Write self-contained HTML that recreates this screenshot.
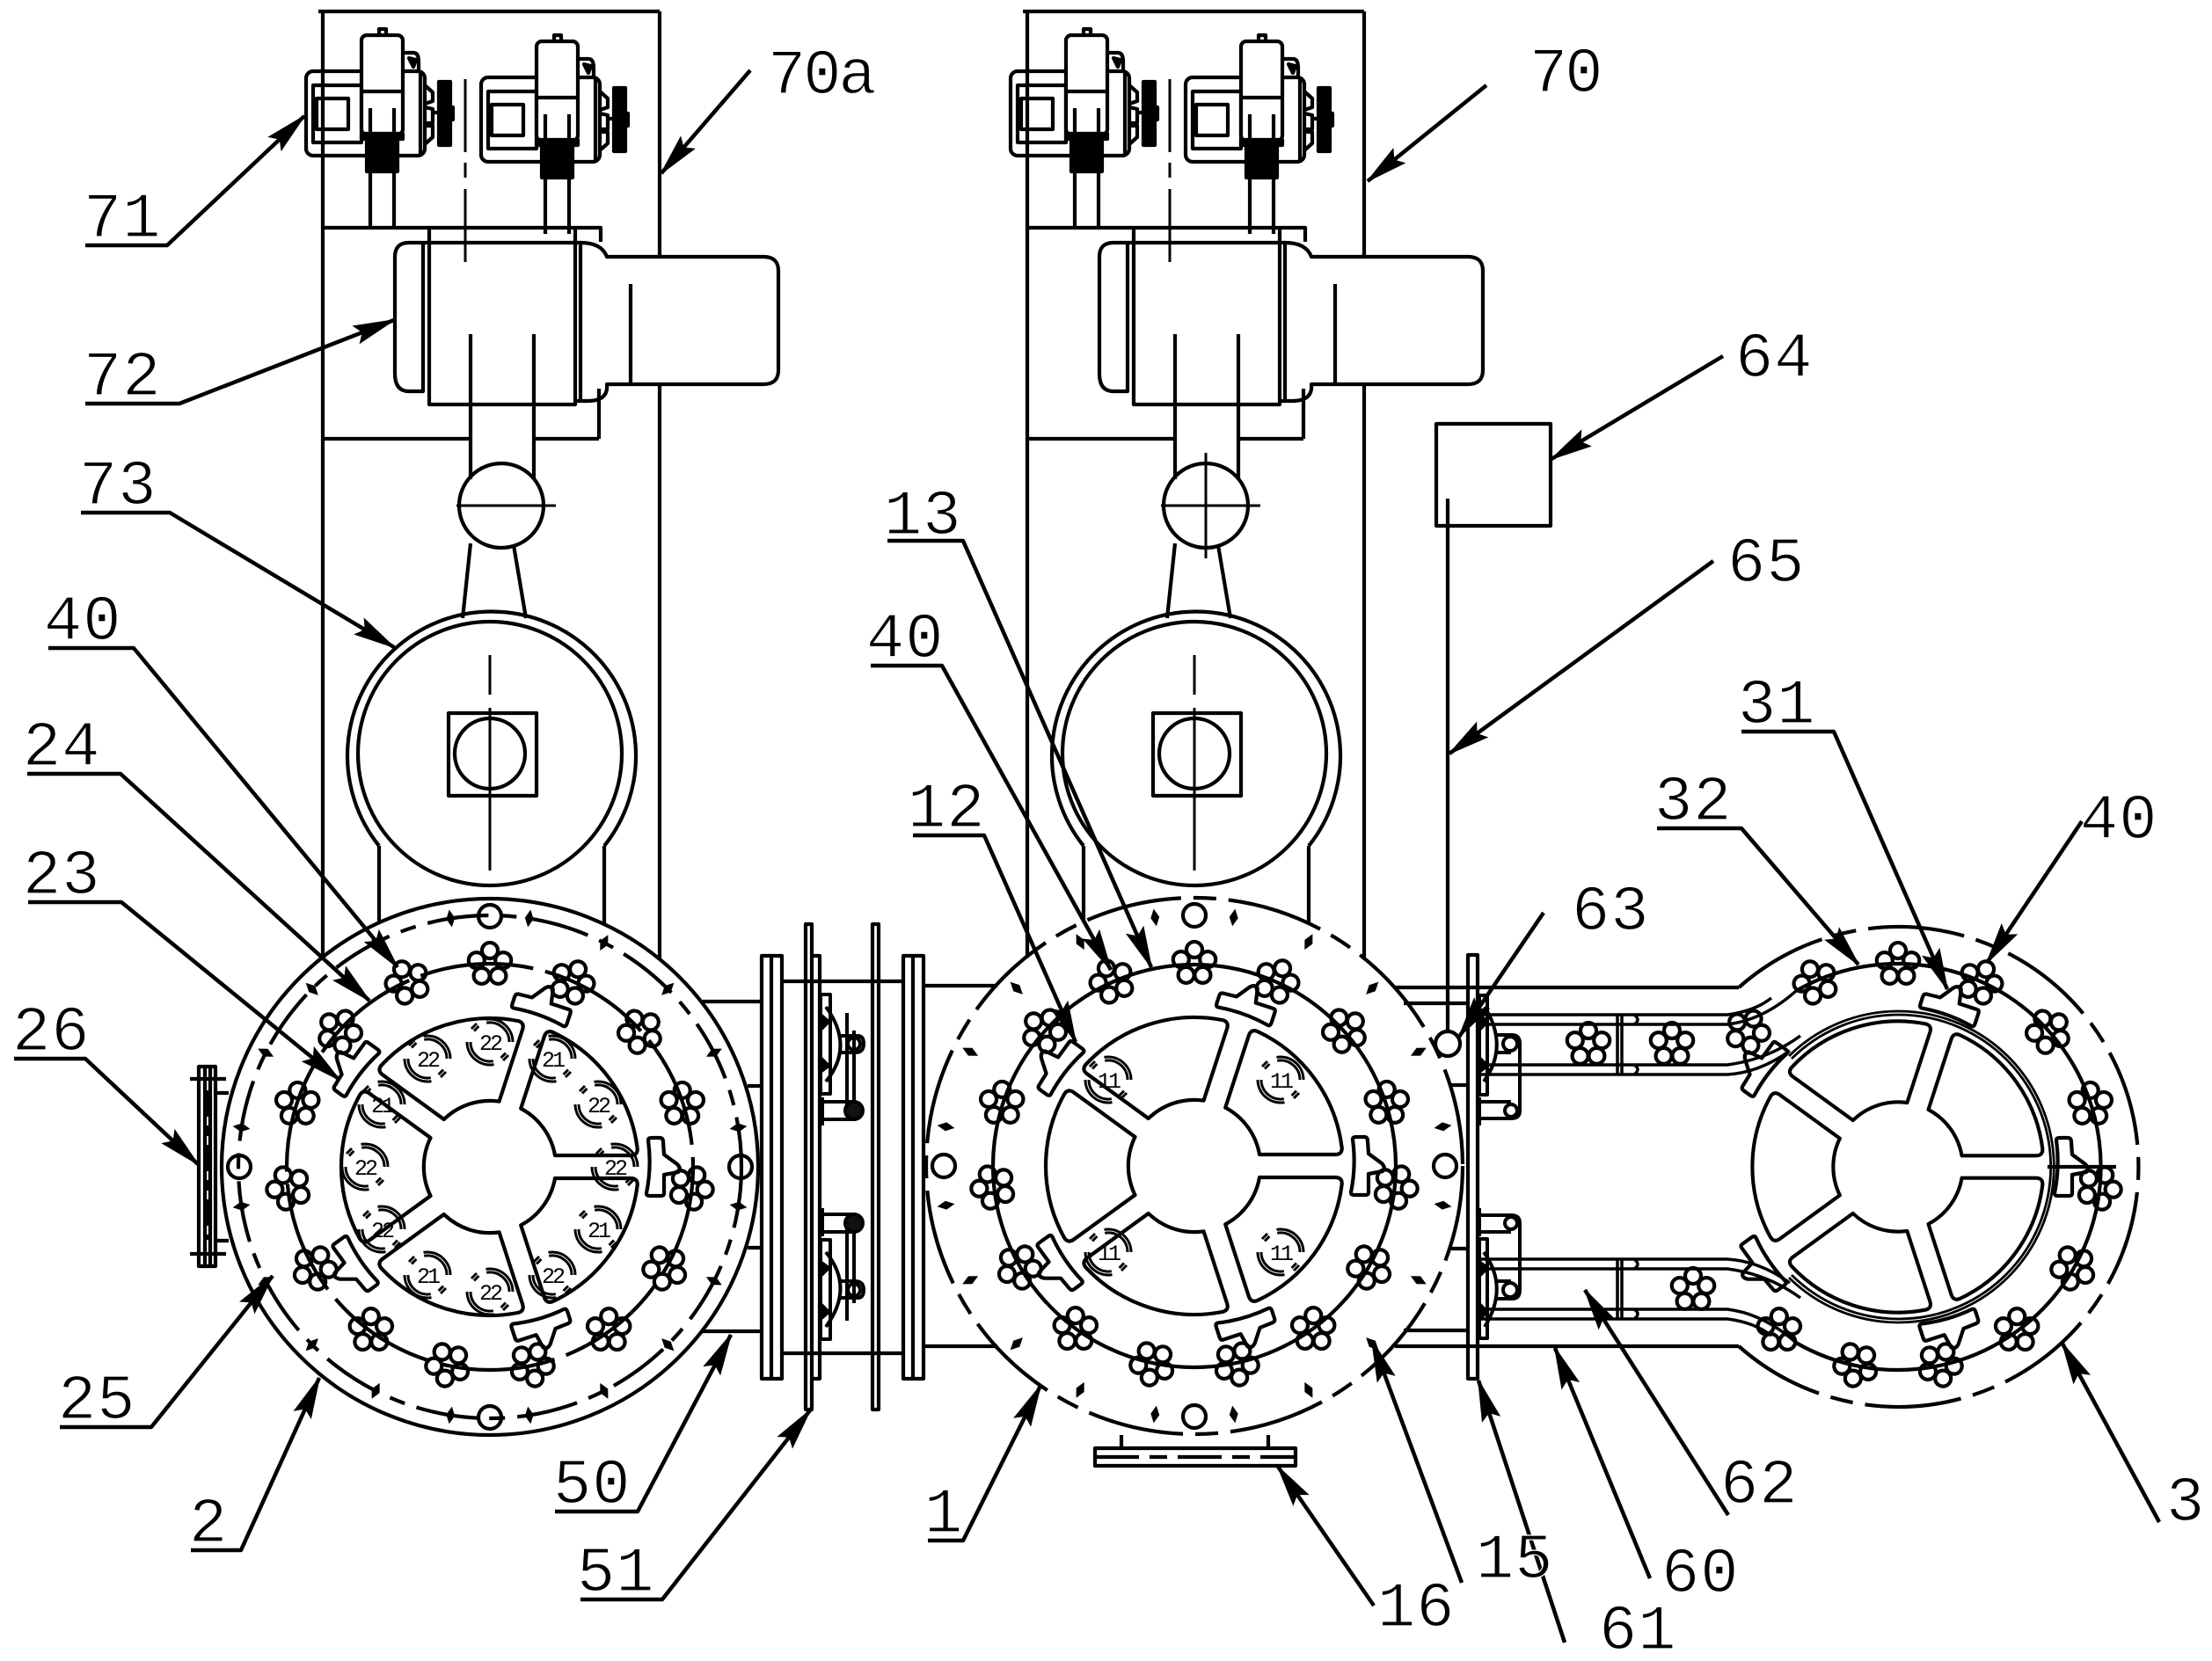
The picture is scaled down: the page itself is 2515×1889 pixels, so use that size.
<!DOCTYPE html>
<html><head><meta charset="utf-8"><title>Diagram</title>
<style>html,body{margin:0;padding:0;background:#fff}svg{display:block}
text{font-family:"Liberation Mono",monospace;font-size:72px;letter-spacing:1px;fill:#000;stroke:#fff;stroke-width:1.2px}
.s{font-family:"Liberation Mono",monospace;font-size:25px;letter-spacing:-3px;text-anchor:middle;stroke:none}
</style></head><body>
<svg xmlns="http://www.w3.org/2000/svg" width="2515" height="1889" viewBox="0 0 2515 1889">
<defs>
<marker id="a" markerUnits="userSpaceOnUse" markerWidth="54" markerHeight="28" refX="50" refY="14" orient="auto"><path d="M12 14 L5 4 L50 14 L5 24Z" fill="#000" stroke="#000" stroke-width="1.5"/></marker>
<g id="fl" fill="none"><circle cx="0" cy="-16" r="9"/><circle cx="15.2" cy="-4.9" r="9"/><circle cx="9.4" cy="12.9" r="9"/><circle cx="-9.4" cy="12.9" r="9"/><circle cx="-15.2" cy="-4.9" r="9"/></g>
<use id="f0" href="#fl" transform="translate(0,-230)"/>
<g id="fls"><use href="#f0"/><use href="#f0" transform="rotate(24)"/><use href="#f0" transform="rotate(48)"/><use href="#f0" transform="rotate(72)"/><use href="#f0" transform="rotate(96)"/><use href="#f0" transform="rotate(120)"/><use href="#f0" transform="rotate(144)"/><use href="#f0" transform="rotate(168)"/><use href="#f0" transform="rotate(192)"/><use href="#f0" transform="rotate(216)"/></g>
<g id="fl15"><use href="#fls"/><use href="#f0" transform="rotate(240)"/><use href="#f0" transform="rotate(264)"/><use href="#f0" transform="rotate(288)"/><use href="#f0" transform="rotate(312)"/><use href="#f0" transform="rotate(336)"/></g>
<path id="sec" fill="none" d="M67.5 -33 L137 -83.5 Q143.6 -88.3 147.8 -81.9 A169 169 0 0 1 147.8 81.9 Q143.6 88.3 137 83.5 L67.5 33 A75 75 0 0 0 67.5 -33Z"/>
<g id="wheel"><use href="#sec" transform="rotate(36)"/><use href="#sec" transform="rotate(108)"/><use href="#sec" transform="rotate(180)"/><use href="#sec" transform="rotate(252)"/><use href="#sec" transform="rotate(324)"/></g>
<path id="cl" fill="none" d="M180 -30 Q180 -33 184 -33 L193 -33 Q197 -33 197 -28 L198 -14 L213 -3 Q218 2 214 6 L198 9 L198 30 Q198 33 194 33 L182 33 Q178 33 178 30 A180 180 0 0 0 180 -30Z"/>
<g id="clips"><use href="#cl"/><use href="#cl" transform="rotate(72)"/><use href="#cl" transform="rotate(144)"/><use href="#cl" transform="rotate(216)"/><use href="#cl" transform="rotate(288)"/></g>
<path id="dm" fill="#000" stroke="none" d="M0 -296 L5 -286 L0 -276 L-5 -286Z"/>
<g id="dms"><use href="#dm" transform="rotate(9)"/><use href="#dm" transform="rotate(27)"/><use href="#dm" transform="rotate(45)"/><use href="#dm" transform="rotate(63)"/><use href="#dm" transform="rotate(81)"/></g>
<g id="dm20"><use href="#dms"/><use href="#dms" transform="rotate(90)"/><use href="#dms" transform="rotate(180)"/><use href="#dms" transform="rotate(270)"/></g>
<g id="holes" fill="none"><circle cx="0" cy="-285" r="13"/><circle cx="285" cy="0" r="13"/><circle cx="0" cy="285" r="13"/><circle cx="-285" cy="0" r="13"/></g>
<path id="ci" fill="none" stroke-width="3" d="M-4.5 -25.6A26 26 0 0 1 26 0M-3.8 -21.7A22 22 0 0 1 22 0M4.5 25.6A26 26 0 0 1 -26 0M3.8 21.7A22 22 0 0 1 -22 0M21 15L15 21M18 12.6L12.6 18M-21 -15L-15 -21M-18 -12.6L-12.6 -18"/>
<g id="motor" fill="none">
<rect x="348" y="81" width="135" height="96" rx="8"/><rect x="356" y="97" width="55" height="65"/><rect x="360" y="112" width="36" height="35"/>
<rect x="411" y="40" width="47" height="113" rx="6" fill="#fff"/><path d="M411 104H458M421 123V153M448 123V153M421 195V259M448 195V259M431 40V33H439V40M458 60H470Q476 60 476 70V81M478 81V177"/>
<rect x="411" y="152" width="47" height="6" fill="#000"/><rect x="417" y="160" width="35" height="35" fill="#000"/>
<path d="M465 66L473 68L470 76Z" fill="#000"/>
<path d="M483 97L492 105V115L483 118M483 122L492 124V140L483 140M483 143L492 143V156L483 164M492 128H499"/>
<rect x="499" y="93" width="13" height="72" fill="#000"/><rect x="512" y="122" width="3" height="14" fill="#000"/>
</g>
<g id="frame" fill="none">
<path d="M362 13H750M367 13V1089M750 13V292M750 437V1091M367 259H683V275M367 499H535M607 499H681"/>
<use href="#motor"/><use href="#motor" transform="translate(199,7)"/>
<path stroke-width="3" d="M529 90V173M529 185V202M529 215V298"/>
<path d="M481 276H660M488 259V460H654V259M481 276V445H465Q449 445 449 425V292Q449 276 465 276H481M660 276V456M660 276Q684 276 690 292H868Q885 292 885 308V421Q885 437 868 437H690Q692 456 668 456H654M717 323V437M535 380V545M607 380V545M681 442V499"/>
<circle cx="570" cy="575" r="48"/><path stroke-width="3" d="M519 575H632"/>
<path d="M535 618L526 703M584 620L598 703"/>
<circle cx="557" cy="857" r="150"/><path d="M431 962A164 164 0 1 1 687 962"/><path d="M431 962V1049M687 962V1051"/>
<rect x="510" y="811" width="100" height="94"/><circle cx="557" cy="857" r="40"/>
<path stroke-width="3" d="M557 745V790M557 805V990"/>
</g>
<g id="fitL" fill="none" stroke-width="4">
<rect x="933" y="1131" width="11" height="113"/>
<path d="M939 1145Q972 1190 939 1230"/>
<path d="M934 1155L942 1162L934 1170ZM934 1218L942 1212L934 1204Z" fill="#000"/>
<path d="M955 1178H975Q982 1178 982 1187Q982 1197 972 1197H955M963 1152V1270M971 1172V1275M935 1253H972M935 1273H972M935 1248V1280"/>
<circle cx="971" cy="1187" r="7"/><circle cx="971" cy="1263" r="10" fill="#111"/></g>
<g id="fitR" fill="none" stroke-width="4">
<rect x="1682" y="1132" width="9" height="113"/>
<path d="M1688 1145Q1716 1190 1687 1230"/>
<path d="M1683 1155L1691 1162L1683 1170ZM1683 1218L1691 1212L1683 1204Z" fill="#000"/>
<path d="M1702 1177H1719Q1728 1177 1728 1187V1263Q1728 1272 1718 1272H1684M1702 1197H1718M1684 1253H1718M1682 1248V1280"/>
<circle cx="1717" cy="1187" r="8"/><circle cx="1718" cy="1263" r="7"/></g>
<g id="trk" fill="none" stroke-width="3.5"><path d="M1681 1154H1964Q1995 1150 2014 1135M1681 1165H1964Q2005 1160 2042 1127M1681 1211H1964Q2010 1205 2047 1178M1681 1222H1964Q2000 1220 2035 1195M1839 1154V1222M1844 1154V1222M1858 1154Q1866 1160 1858 1165M1858 1211Q1866 1216 1858 1222"/></g>
</defs>
<rect width="2515" height="1889" fill="#fff"/>
<g fill="none" stroke="#000" stroke-width="4.2" stroke-linejoin="round">
<!-- frames -->
<use href="#frame"/><use href="#frame" transform="translate(801,0)"/>
<path stroke-width="3" d="M1371 515V635"/>
<!-- box 64 -->
<rect x="1633" y="482" width="130" height="116"/><path d="M1646 567V1173"/><circle cx="1646" cy="1187" r="14"/>
<!-- left flange 26 -->
<path d="M226 1213H245V1440H226ZM233 1213V1440M239 1213V1440M216 1227H257M216 1426H257M245 1243H260M245 1411H260"/>
<path stroke-width="6" stroke-dasharray="30 10 12 10" d="M236 1240V1410"/>
<!-- duct 50 & plates -->
<path d="M799 1139H867M799 1514H867M850 1235H867M850 1419H867M889 1116H1027M889 1539H1027M1050 1121H1134M1050 1531H1134"/>
<path d="M866 1087H889V1568H866ZM877 1087V1568M1027 1087H1050V1568H1027ZM1038 1087V1568M916 1051H923V1603H916ZM992 1051H999V1603H992ZM923 1087H932V1568H923"/>
<use href="#fitL"/><use href="#fitL" transform="translate(0,2654) scale(1,-1)"/>
<!-- duct 60 & plate 61 -->
<path d="M1586 1123H1977M1586 1531H1977M1596 1141H1669M1596 1513H1669M1650 1234H1669M1650 1420H1669"/>
<path d="M1669 1086H1680V1568H1669Z"/>
<use href="#fitR"/><use href="#fitR" transform="translate(0,2654) scale(1,-1)"/>
<use href="#trk"/><use href="#trk" transform="translate(0,2654) scale(1,-1)"/>
<use href="#fl" transform="translate(1901,1188)"/><use href="#fl" transform="translate(1806,1188)"/><use href="#fl" transform="translate(1925,1467)"/>
<!-- bottom flange 16 -->
<path d="M1275 1632V1647M1442 1632V1647M1245 1647H1473V1667H1245Z"/><path stroke-dasharray="50 12 20 12" d="M1245 1657H1473"/>
<!-- ring 2 -->
<g transform="translate(557,1327)">
<circle r="305" fill="none"/><circle r="286" stroke-dasharray="70 14 18 14"/><circle r="231" stroke-dasharray="130 14"/>
<use href="#holes"/><use href="#dm20"/><use href="#fl15"/><use href="#clips"/><use href="#wheel"/>
</g>
<g><use href="#ci" transform="translate(557,1185)"/><use href="#ci" transform="translate(628,1204)"/><use href="#ci" transform="translate(680,1256)"/><use href="#ci" transform="translate(699,1327)"/><use href="#ci" transform="translate(680,1398)"/><use href="#ci" transform="translate(628,1450)"/><use href="#ci" transform="translate(557,1469)"/><use href="#ci" transform="translate(486,1450)"/><use href="#ci" transform="translate(434,1398)"/><use href="#ci" transform="translate(415,1327)"/><use href="#ci" transform="translate(434,1256)"/><use href="#ci" transform="translate(486,1204)"/></g>
<!-- ring 1 -->
<g transform="translate(1358,1326)">
<circle r="305" stroke-dasharray="110 14 26 14"/><circle r="229"/>
<use href="#holes"/><use href="#dm20"/><use href="#fl15"/><use href="#clips"/><use href="#wheel"/>
</g>
<g><use href="#ci" transform="translate(1260,1228)"/><use href="#ci" transform="translate(1456,1228)"/><use href="#ci" transform="translate(1260,1424)"/><use href="#ci" transform="translate(1456,1424)"/></g>
<!-- ring 3 -->
<path stroke-dasharray="110 14 26 14" d="M1977 1123A273 273 0 1 1 1977 1531"/>
<path d="M2042 1127A231 231 0 1 1 2042 1527"/>
<path stroke-width="2.8" d="M2034 1201A177 177 0 1 1 2034 1453M2037 1204A173 173 0 1 1 2037 1450"/>
<g transform="translate(2158,1327)"><use href="#fls"/><use href="#f0" transform="rotate(312)"/><use href="#f0" transform="rotate(336)"/><use href="#clips"/><use href="#wheel" transform="scale(.98)"/></g>
<path d="M2328 1327H2406"/>
<!-- leaders -->
<g stroke-width="4.5">
<polyline points="97,279 190,279 346,132" marker-end="url(#a)"/>
<polyline points="853,80 752,197" marker-end="url(#a)"/>
<polyline points="97,459 204,459 448,364" marker-end="url(#a)"/>
<polyline points="92,583 193,583 448,736" marker-end="url(#a)"/>
<polyline points="55,737 152,737 452,1100" marker-end="url(#a)"/>
<polyline points="31,880 137,880 420,1138" marker-end="url(#a)"/>
<polyline points="32,1026 138,1026 386,1228" marker-end="url(#a)"/>
<polyline points="16,1204 97,1204 225,1324" marker-end="url(#a)"/>
<polyline points="68,1623 172,1623 310,1451" marker-end="url(#a)"/>
<polyline points="217,1763 274,1763 363,1567" marker-end="url(#a)"/>
<polyline points="631,1719 725,1719 831,1518" marker-end="url(#a)"/>
<polyline points="660,1819 753,1819 921,1604" marker-end="url(#a)"/>
<polyline points="1055,1752 1095,1752 1183,1576" marker-end="url(#a)"/>
<polyline points="1038,950 1119,950 1223,1185" marker-end="url(#a)"/>
<polyline points="990,757 1071,757 1263,1103" marker-end="url(#a)"/>
<polyline points="1009,615 1095,615 1309,1100" marker-end="url(#a)"/>
<polyline points="1562,1826 1453,1668" marker-end="url(#a)"/>
<polyline points="1662,1800 1560,1525" marker-end="url(#a)"/>
<polyline points="1779,1868 1681,1570" marker-end="url(#a)"/>
<polyline points="1876,1795 1768,1533" marker-end="url(#a)"/>
<polyline points="1965,1723 1802,1467" marker-end="url(#a)"/>
<polyline points="2455,1731 2345,1528" marker-end="url(#a)"/>
<polyline points="1755,1038 1659,1179" marker-end="url(#a)"/>
<polyline points="1948,638 1648,857" marker-end="url(#a)"/>
<polyline points="1959,405 1764,522" marker-end="url(#a)"/>
<polyline points="1690,97 1555,206" marker-end="url(#a)"/>
<polyline points="2367,934 2259,1095" marker-end="url(#a)"/>
<polyline points="1980,832 2085,832 2214,1125" marker-end="url(#a)"/>
<polyline points="1884,942 1980,942 2113,1097" marker-end="url(#a)"/>
</g>
</g>
<!-- small labels -->
<g>
<text class="s" x="557" y="1194">22</text><text class="s" x="628" y="1213">21</text><text class="s" x="680" y="1265">22</text><text class="s" x="699" y="1336">22</text><text class="s" x="680" y="1407">21</text><text class="s" x="628" y="1459">22</text><text class="s" x="557" y="1478">22</text><text class="s" x="486" y="1459">21</text><text class="s" x="434" y="1407">22</text><text class="s" x="415" y="1336">22</text><text class="s" x="434" y="1265">21</text><text class="s" x="486" y="1213">22</text>
<text class="s" x="1260" y="1237">11</text><text class="s" x="1456" y="1237">11</text><text class="s" x="1260" y="1433">11</text><text class="s" x="1456" y="1433">11</text>
</g>
<!-- labels -->
<g>
<text x="873" y="106" style="letter-spacing:-3px">70a</text><text x="95" y="269">71</text><text x="95" y="449">72</text><text x="90" y="573">73</text>
<text x="50" y="727">40</text><text x="26" y="870">24</text><text x="26" y="1016">23</text><text x="14" y="1194">26</text>
<text x="66" y="1613">25</text><text x="215" y="1753">2</text><text x="629" y="1709">50</text><text x="656" y="1809">51</text>
<text x="1051" y="1742">1</text><text x="1032" y="940">12</text><text x="985" y="747">40</text><text x="1005" y="607">13</text>
<text x="1566" y="1849">16</text><text x="1678" y="1794">15</text><text x="1818" y="1875">61</text><text x="1889" y="1810">60</text>
<text x="1956" y="1709">62</text><text x="2463" y="1729">3</text><text x="1787" y="1057">63</text><text x="1964" y="661">65</text>
<text x="1973" y="428">64</text><text x="1739" y="104" style="letter-spacing:-3px">70</text><text x="2365" y="953">40</text><text x="1976" y="822">31</text><text x="1881" y="932">32</text>
</g>
</svg>
</body></html>
